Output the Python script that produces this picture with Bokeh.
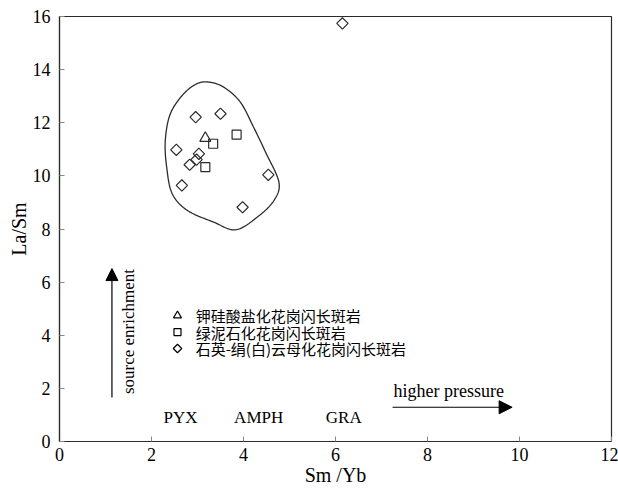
from bokeh.plotting import figure
from bokeh.models import Range1d, Label, Arrow, NormalHead, FixedTicker
from bokeh.embed import file_html
from bokeh.resources import INLINE
import numpy as np

# --- data -------------------------------------------------------------
k_sm_yb = [3.17]
k_la_sm = [11.42]

chl_sm_yb = [3.34, 3.85, 3.17]
chl_la_sm = [11.21, 11.55, 10.33]

qs_sm_yb = [2.96, 3.50, 2.54, 3.03, 2.98, 2.83, 2.66, 4.54, 3.98, 6.15]
qs_la_sm = [12.21, 12.34, 10.98, 10.83, 10.61, 10.42, 9.64, 10.04, 8.82, 15.74]

# outline of the sample field (control points, clockwise from the top)
env_x = [3.25, 3.57, 3.93, 4.22, 4.48, 4.77, 4.66, 4.30, 3.83, 3.35, 2.78,
         2.45, 2.33, 2.30, 2.41, 2.70, 2.99]
env_y = [13.53, 13.34, 12.78, 11.83, 10.89, 9.76, 9.07, 8.45, 7.97, 8.26, 8.70,
         9.33, 10.33, 11.33, 12.34, 13.09, 13.47]

x_ticks = [0, 2, 4, 6, 8, 10, 12]
y_ticks = [0, 2, 4, 6, 8, 10, 12, 14, 16]

series_names = ["钾硅酸盐化花岗闪长斑岩", "绿泥石化花岗闪长斑岩", "石英-绢(白)云母化花岗闪长斑岩"]

SERIF = "Liberation Serif"
CJK = "Noto Sans CJK SC"
INK = "#2b2b2b"

# legend block placement (axis units): key column, text column, row positions
LEG_KEY_X = 2.565
LEG_TEXT_X = 2.96
LEG_ROWS_Y = [4.74, 4.12, 3.50]


def closed_spline(xs, ys, n=24):
    """Periodic Catmull-Rom curve through the outline control points."""
    pts = np.column_stack([xs, ys])
    m = len(pts)
    out = []
    for i in range(m):
        p0, p1, p2, p3 = pts[(i - 1) % m], pts[i], pts[(i + 1) % m], pts[(i + 2) % m]
        for t in np.linspace(0, 1, n, endpoint=False):
            t2, t3 = t * t, t * t * t
            out.append(0.5 * ((2 * p1) + (-p0 + p2) * t
                              + (2 * p0 - 5 * p1 + 4 * p2 - p3) * t2
                              + (-p0 + 3 * p1 - 3 * p2 + p3) * t3))
    out.append(out[0])
    out = np.array(out)
    return out[:, 0], out[:, 1]


p = figure(width=618, height=491, output_backend="svg", toolbar_location=None,
           x_range=Range1d(0, 12), y_range=Range1d(0, 16),
           min_border_left=59, min_border_right=7, min_border_top=16,
           min_border_bottom=50)
p.background_fill_color = "white"
p.border_fill_color = "white"
p.outline_line_color = INK
p.outline_line_width = 1.2
p.grid.visible = False

for axes in (p.xaxis, p.yaxis):
    axes.major_tick_in = 5
    axes.major_tick_out = 0
    axes.minor_tick_line_color = None
    axes.axis_line_color = INK
    axes.axis_line_width = 1.2
    axes.major_tick_line_color = "#888888"
    axes.major_label_text_font = SERIF
    axes.major_label_text_font_size = "18px"
    axes.major_label_text_color = "black"
    axes.axis_label_text_font = SERIF
    axes.axis_label_text_font_size = "20px"
    axes.axis_label_text_font_style = "normal"
    axes.axis_label_text_color = "black"

p.xaxis.ticker = FixedTicker(ticks=x_ticks)
p.yaxis.ticker = FixedTicker(ticks=y_ticks)
p.xaxis.major_label_standoff = 6
p.yaxis.major_label_standoff = 9
p.xaxis.axis_label = "Sm /Yb"
p.yaxis.axis_label = "La/Sm"
p.xaxis.axis_label_standoff = 0
p.yaxis.axis_label_standoff = 0

# sample field outline
ex, ey = closed_spline(env_x, env_y)
p.line(ex, ey, line_color=INK, line_width=1.3)

# samples, one marker style per alteration type
styles = [dict(marker="triangle", size=11, angle=0.0),
          dict(marker="square", size=9, angle=0.0),
          dict(marker="square", size=8, angle=np.pi / 4)]
key_sizes = [8, 7, 6]
series = [(k_sm_yb, k_la_sm), (chl_sm_yb, chl_la_sm), (qs_sm_yb, qs_la_sm)]

for (xs, ys), st in zip(series, styles):
    p.scatter(xs, ys, marker=st["marker"], size=st["size"], angle=st["angle"],
              fill_color=None, line_color=INK, line_width=1.2)

# legend block: key symbol + name for each series
for name, st, ks, ry in zip(series_names, styles, key_sizes, LEG_ROWS_Y):
    p.scatter([LEG_KEY_X], [ry], marker=st["marker"], size=ks, angle=st["angle"],
              fill_color=None, line_color="black", line_width=1.2)
    p.add_layout(Label(x=LEG_TEXT_X, y=ry, text=name, text_font=CJK,
                       text_font_size="15px", text_align="left",
                       text_baseline="middle", text_color="black"))

# metamorphic residue labels
for txt, xc in (("PYX", 2.63), ("AMPH", 4.33), ("GRA", 6.18)):
    p.add_layout(Label(x=xc, y=0.9, text=txt, text_font=SERIF,
                       text_font_size="17px", text_align="center",
                       text_baseline="middle", text_color="black"))

# pressure arrow
p.add_layout(Label(x=7.26, y=1.92, text="higher pressure", text_font=SERIF,
                   text_font_size="18px", text_align="left",
                   text_baseline="middle", text_color="black"))
p.add_layout(Arrow(x_start=7.24, y_start=1.29, x_end=9.84, y_end=1.29,
                   line_color="black", line_width=1.2,
                   end=NormalHead(size=13, fill_color="black", line_color="black")))

# source enrichment arrow
p.add_layout(Arrow(x_start=1.14, y_start=1.66, x_end=1.14, y_end=6.51,
                   line_color="black", line_width=1.2,
                   end=NormalHead(size=12, fill_color="black", line_color="black")))
p.add_layout(Label(x=1.5, y=4.14, text="source enrichment", text_font=SERIF,
                   text_font_size="17px", text_align="center",
                   text_baseline="middle", angle=np.pi / 2, text_color="black"))

open("out.html", "w").write(file_html(p, INLINE))
